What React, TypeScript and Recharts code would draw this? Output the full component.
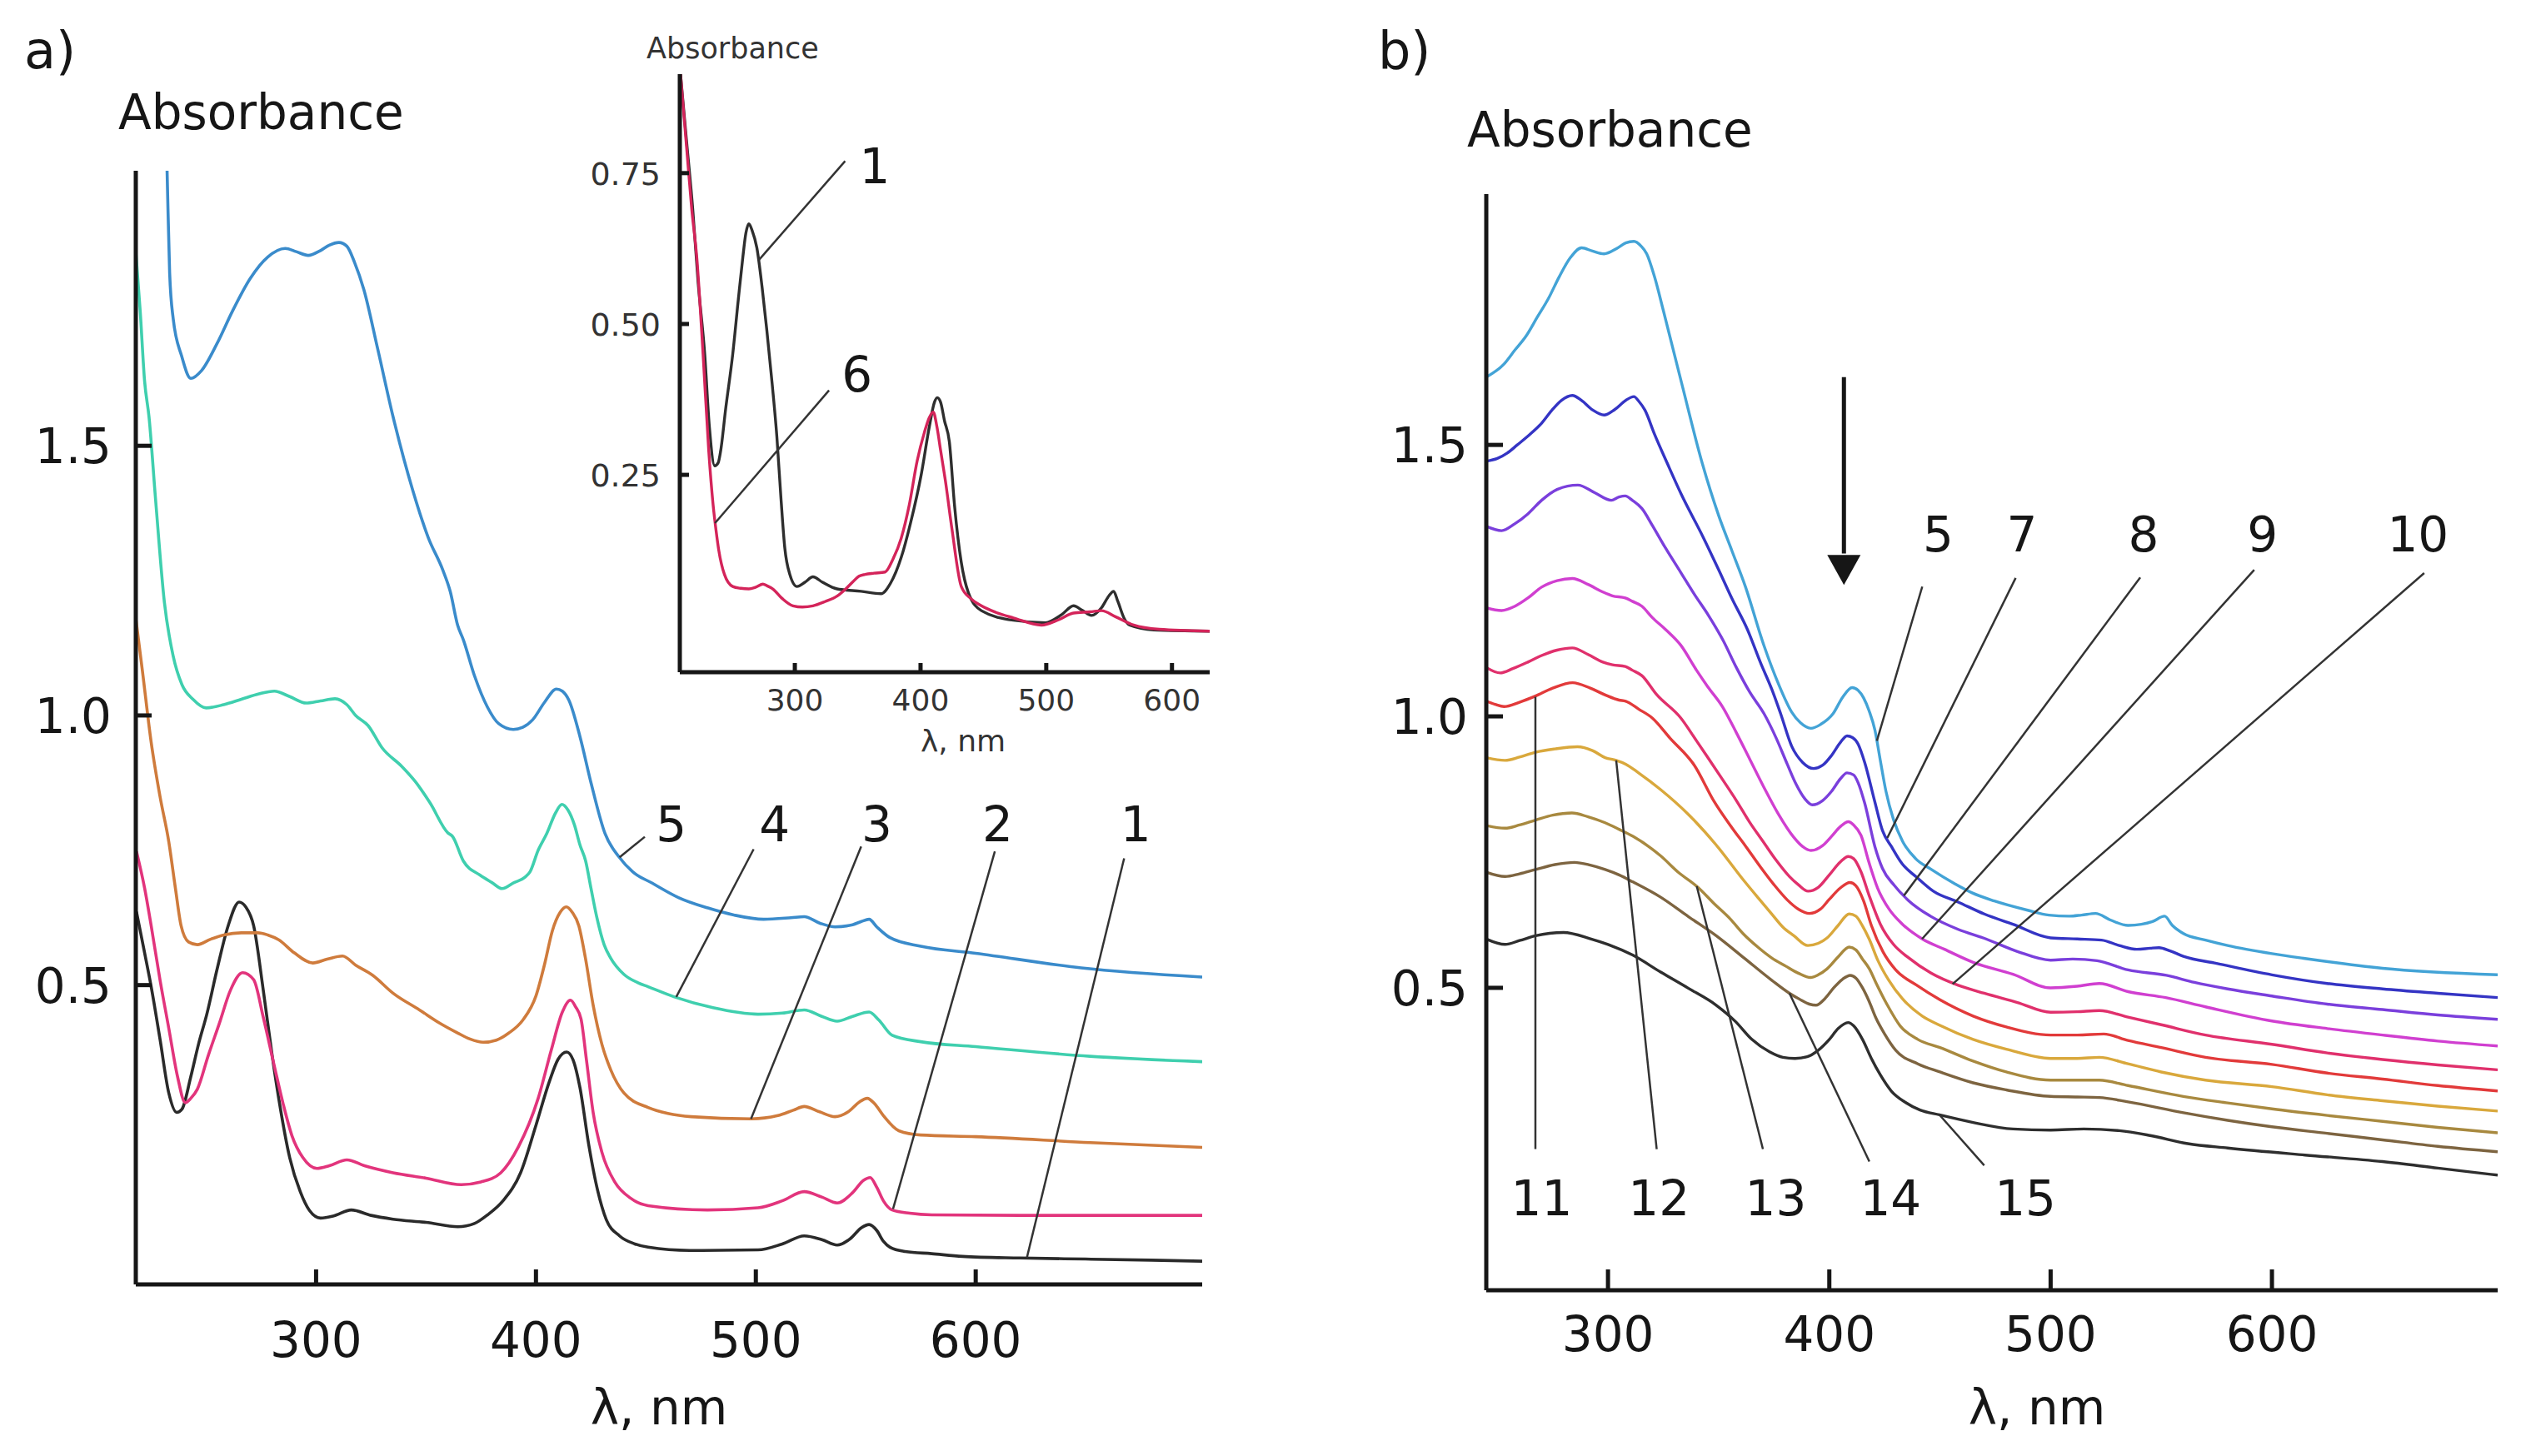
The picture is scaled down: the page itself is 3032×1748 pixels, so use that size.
import React from "react";
import { LineChart, Line, XAxis, YAxis, ReferenceLine, ReferenceDot } from "recharts";

type Pt = [number, number];

const FONT = "'DejaVu Sans', Verdana, sans-serif";
const INK = "#161616";

// ---- panel a: spectra 1–5, [wavelength nm, absorbance] ----
const a1: Pt[] = [
  [218.3, 0.636], [222, 0.56], [225, 0.497], [229, 0.4], [233, 0.3], [236.6, 0.264], [239, 0.27], [243, 0.33],
  [246.5, 0.39], [250.3, 0.446], [255, 0.53], [260, 0.61], [265, 0.654], [268, 0.645], [271.6, 0.61], [276, 0.49],
  [280, 0.37], [283, 0.29], [288, 0.18], [292.8, 0.117], [297, 0.082], [302, 0.068], [308, 0.072], [316, 0.083],
  [325, 0.073], [335, 0.066], [350, 0.06], [364.5, 0.052], [372, 0.058], [378, 0.074], [385, 0.1], [393, 0.152],
  [400, 0.24], [406, 0.32], [410, 0.362], [414, 0.376], [417, 0.36], [420, 0.31], [424, 0.204], [428, 0.12],
  [432, 0.065], [438, 0.035], [445, 0.02], [451, 0.014], [470, 0.008], [501, 0.009], [512, 0.02], [522, 0.035],
  [530, 0.028], [537, 0.018], [543, 0.03], [548, 0.05], [551.5, 0.056], [555, 0.045], [558, 0.025], [561, 0.014],
  [568, 0.006], [580, 0.002], [594, -0.003], [620, -0.006], [650, -0.008], [680, -0.01], [703, -0.012],
];
const a2: Pt[] = [
  [218.3, 0.748], [222, 0.68], [225, 0.61], [229, 0.51], [233, 0.42], [237, 0.33], [240.5, 0.282], [243, 0.29],
  [246, 0.307], [251, 0.37], [256, 0.429], [261, 0.49], [266.6, 0.523], [271.6, 0.51], [276, 0.44], [281, 0.35],
  [285, 0.28], [289, 0.221], [294, 0.18], [300.4, 0.16], [306, 0.165], [314, 0.176], [322, 0.165], [335, 0.152],
  [350, 0.142], [366, 0.13], [375, 0.135], [384, 0.152], [392, 0.2], [401, 0.29], [407, 0.38], [412, 0.45],
  [415.7, 0.472], [418, 0.46], [420.5, 0.437], [423, 0.36], [426, 0.264], [430, 0.19], [436, 0.134], [443, 0.105],
  [451, 0.091], [478, 0.083], [501, 0.087], [512, 0.1], [522, 0.117], [530, 0.107], [537, 0.096], [544, 0.115],
  [549, 0.138], [552, 0.143], [555, 0.125], [558, 0.1], [562, 0.083], [570, 0.077], [580, 0.074], [620, 0.073],
  [703, 0.073],
];
const a3: Pt[] = [
  [218, 1.18], [221, 1.083], [225, 0.95], [229, 0.85], [233, 0.766], [236, 0.68], [238.6, 0.61], [242, 0.58],
  [246, 0.575], [252, 0.585], [258, 0.593], [266, 0.597], [273.5, 0.597], [278, 0.593], [283, 0.584], [290, 0.56],
  [298.5, 0.541], [305, 0.548], [312, 0.554], [318, 0.537], [325.8, 0.518], [335, 0.485], [347, 0.454],
  [356, 0.43], [364.5, 0.411], [370, 0.4], [376, 0.394], [382, 0.398], [387.6, 0.411], [394, 0.435], [400, 0.48],
  [404, 0.54], [407.4, 0.6], [411, 0.635], [413.8, 0.645], [416.5, 0.635], [419.5, 0.61], [422.5, 0.55],
  [426, 0.463], [430, 0.39], [434, 0.343], [440, 0.3], [451, 0.273], [460, 0.262], [470.6, 0.256], [498, 0.252],
  [510, 0.258], [517, 0.268], [522, 0.275], [529, 0.265], [536, 0.256], [542, 0.265], [547, 0.283], [550.7, 0.29],
  [554, 0.28], [558, 0.258], [565, 0.23], [575, 0.222], [600, 0.219], [652, 0.208], [703, 0.199],
];
const a4: Pt[] = [
  [218, 1.86], [220, 1.75], [222, 1.62], [224, 1.554], [227, 1.4], [231, 1.21], [235, 1.11], [239, 1.057],
  [244, 1.03], [250, 1.014], [258, 1.02], [266, 1.03], [274, 1.04], [281, 1.045], [288, 1.035], [295.5, 1.023],
  [302, 1.027], [308.6, 1.031], [314, 1.02], [318, 1.0], [323.7, 0.981], [330, 0.94], [339.1, 0.905],
  [345, 0.878], [351.8, 0.838], [360, 0.782], [362, 0.776], [367, 0.73], [374.5, 0.704], [380, 0.69],
  [384.6, 0.679], [390, 0.69], [395, 0.7], [397.3, 0.71], [401, 0.75], [404.9, 0.781], [409, 0.82],
  [411.8, 0.835], [414.5, 0.825], [417.5, 0.797], [420, 0.76], [422.6, 0.73], [425, 0.68], [427.6, 0.627],
  [431, 0.575], [434, 0.55], [440, 0.52], [446.6, 0.504], [451, 0.497], [463, 0.478], [480.5, 0.458],
  [501, 0.446], [512, 0.448], [522, 0.454], [530, 0.442], [537, 0.433], [544, 0.442], [551.5, 0.45],
  [556, 0.435], [562, 0.407], [575, 0.395], [600, 0.386], [652, 0.368], [703, 0.358],
];
const a5: Pt[] = [
  [231.6, 2.12], [232.4, 1.98], [233.4, 1.82], [235, 1.736], [238.8, 1.667], [243, 1.625], [248, 1.64],
  [255, 1.69], [262, 1.75], [270, 1.81], [278, 1.85], [286, 1.866], [291, 1.86], [296.4, 1.853], [302, 1.862],
  [306, 1.872], [310.4, 1.877], [314, 1.87], [317.5, 1.84], [321.7, 1.79], [328, 1.68], [335, 1.554],
  [344, 1.417], [351, 1.33], [357.6, 1.27], [361, 1.23], [364.4, 1.167], [367, 1.14], [372, 1.074],
  [378, 1.015], [383, 0.985], [389.7, 0.974], [394, 0.978], [398.5, 0.992], [404, 1.025], [409.3, 1.049],
  [412, 1.045], [415, 1.028], [420, 0.961], [425.1, 0.874], [431.4, 0.781], [437.7, 0.738], [444, 0.71],
  [452.9, 0.689], [465, 0.662], [478.2, 0.643], [490, 0.63], [503.5, 0.622], [516, 0.625], [522, 0.627],
  [529, 0.615], [536, 0.608], [544, 0.612], [548, 0.618], [551.5, 0.622], [555, 0.608], [561, 0.588],
  [575, 0.572], [600, 0.559], [648, 0.532], [703, 0.515],
];

// ---- inset: spectra 1 and 6 ----
const i1: Pt[] = [
  [209, 0.915], [214, 0.8], [218.8, 0.69], [223, 0.57], [228.3, 0.45], [232, 0.33], [236.3, 0.265], [239, 0.27],
  [241, 0.29], [245, 0.36], [250.6, 0.45], [255, 0.54], [258.6, 0.61], [261, 0.65], [263.4, 0.666], [266, 0.655],
  [269.8, 0.626], [274, 0.56], [277.7, 0.49], [282, 0.4], [285.7, 0.313], [289, 0.21], [292, 0.129], [296, 0.085],
  [301.7, 0.065], [308, 0.072], [314.4, 0.081], [322, 0.072], [333.6, 0.061], [352.7, 0.057], [368.6, 0.053],
  [376, 0.07], [384.6, 0.113], [392, 0.17], [400.5, 0.25], [407, 0.33], [411, 0.37], [413.3, 0.378], [416, 0.37],
  [419, 0.34], [422.9, 0.305], [427, 0.2], [432.4, 0.105], [438, 0.055], [448.4, 0.025], [473.9, 0.009],
  [499.4, 0.005], [512, 0.018], [521.7, 0.033], [529, 0.025], [536, 0.017], [544, 0.03], [550, 0.05],
  [553.6, 0.057], [557, 0.04], [562, 0.012], [566.4, 0.001], [585.5, -0.007], [630, -0.009],
];
const i6: Pt[] = [
  [209, 0.915], [214, 0.79], [218, 0.69], [222, 0.61], [227, 0.45], [231.5, 0.29], [235, 0.2], [237.5, 0.155],
  [239.5, 0.125], [244, 0.085], [250.6, 0.065], [257, 0.062], [263.4, 0.061], [269, 0.064], [274.6, 0.069],
  [278, 0.066], [282.5, 0.061], [290, 0.045], [298.5, 0.033], [306, 0.031], [314.4, 0.033], [324, 0.04],
  [333.6, 0.049], [340, 0.06], [346.3, 0.073], [351, 0.082], [355.9, 0.085], [363, 0.087], [371.8, 0.089],
  [378, 0.11], [384.6, 0.145], [391, 0.2], [397.3, 0.273], [403, 0.32], [407, 0.345], [410.1, 0.354], [413, 0.33],
  [416, 0.29], [419.7, 0.241], [425, 0.16], [432.4, 0.065], [440, 0.045], [448.4, 0.033], [460, 0.022],
  [473.9, 0.013], [496.2, 0.001], [510, 0.01], [521.7, 0.021], [535, 0.023], [544, 0.025], [555, 0.015],
  [569.5, 0.001], [590, -0.006], [630, -0.009],
];

// ---- panel b: spectra 5, 7–15 ----
const b5: Pt[] = [
  [245, 1.625], [252.8, 1.648], [258, 1.675], [262.9, 1.7], [268, 1.735], [273, 1.769], [278, 1.81], [283, 1.845],
  [288.1, 1.863], [293, 1.857], [298.2, 1.852], [304, 1.862], [308, 1.872], [311.7, 1.875], [315, 1.866],
  [317.5, 1.852], [321, 1.81], [325.1, 1.746], [333.5, 1.61], [342.6, 1.466], [350, 1.37], [356, 1.305],
  [362, 1.24], [370.5, 1.13], [377, 1.06], [383, 1.008], [387, 0.988], [391.7, 0.978], [396, 0.985],
  [401.7, 1.005], [406, 1.035], [410.3, 1.053], [413, 1.048], [415.5, 1.034], [418, 1.01], [420.6, 0.975],
  [423, 0.92], [425.6, 0.862], [429, 0.81], [433.1, 0.77], [439, 0.738], [445.7, 0.719], [457, 0.691],
  [464.5, 0.675], [474.6, 0.66], [489.6, 0.643], [499.2, 0.634], [508.4, 0.632], [514, 0.634], [520.3, 0.637],
  [527, 0.625], [535, 0.615], [541, 0.617], [546, 0.622], [551.5, 0.632], [555, 0.615], [560, 0.6], [570, 0.588],
  [580, 0.578], [600, 0.563], [615, 0.554], [650, 0.536], [702, 0.524],
];
const b7: Pt[] = [
  [245, 1.47], [250, 1.475], [254.5, 1.485], [259, 1.5], [264.6, 1.519], [270, 1.54], [274.7, 1.564], [279, 1.582],
  [283.9, 1.591], [288, 1.582], [293.2, 1.564], [298.2, 1.555], [303, 1.565], [308, 1.582], [311.7, 1.589],
  [314, 1.58], [316.7, 1.564], [321, 1.52], [326.8, 1.466], [333, 1.41], [343, 1.33], [350, 1.27], [356, 1.217],
  [363, 1.16], [369, 1.098], [374, 1.05], [378, 1.005], [383, 0.945], [388, 0.915], [392.9, 0.904], [397, 0.91],
  [401, 0.928], [405, 0.952], [408, 0.964], [410.5, 0.961], [413, 0.949], [416, 0.915], [420.6, 0.842],
  [424, 0.79], [428.1, 0.76], [433, 0.728], [439.4, 0.704], [447, 0.678], [458.2, 0.658], [470, 0.636],
  [483, 0.617], [500, 0.592], [512, 0.59], [523, 0.588], [531, 0.578], [539, 0.571], [545, 0.573], [549, 0.574],
  [554, 0.568], [560, 0.558], [575, 0.545], [600, 0.524], [625, 0.508], [650, 0.498], [675, 0.49], [702, 0.482],
];
const b8: Pt[] = [
  [245, 1.35], [251.9, 1.342], [258, 1.355], [263.8, 1.373], [270, 1.398], [277, 1.418], [286.4, 1.426],
  [294, 1.412], [301.5, 1.398], [305, 1.404], [307.8, 1.406], [311, 1.398], [315.3, 1.383], [320, 1.352],
  [326, 1.31], [332.9, 1.265], [339, 1.225], [345.4, 1.186], [352, 1.14], [358, 1.09], [364, 1.045],
  [370.5, 1.005], [376, 0.96], [381, 0.912], [385, 0.875], [389, 0.848], [392.3, 0.837], [397, 0.845],
  [401, 0.862], [405, 0.885], [408, 0.896], [411, 0.892], [413, 0.878], [416, 0.84], [420.6, 0.76], [424, 0.72],
  [429.3, 0.689], [436, 0.66], [445.7, 0.632], [458, 0.608], [470.8, 0.59], [485, 0.567], [500, 0.551],
  [510, 0.553], [521, 0.55], [535, 0.533], [552.3, 0.523], [565, 0.51], [580, 0.498], [600, 0.485], [625, 0.47],
  [650, 0.46], [675, 0.45], [702, 0.442],
];
const b9: Pt[] = [
  [245, 1.2], [251.9, 1.195], [258, 1.203], [263.8, 1.218], [270, 1.238], [277, 1.25], [283.9, 1.254],
  [291, 1.243], [297.7, 1.229], [302, 1.222], [307.8, 1.218], [311, 1.212], [315.3, 1.203], [320, 1.182],
  [326, 1.16], [332.9, 1.131], [340, 1.085], [345, 1.055], [351.7, 1.018], [358, 0.97], [364.2, 0.92],
  [370.5, 0.869], [377, 0.82], [384, 0.777], [388, 0.76], [391.7, 0.753], [397, 0.762], [401, 0.779],
  [405, 0.797], [408.6, 0.806], [411, 0.8], [414.3, 0.781], [418, 0.73], [421.8, 0.684], [427, 0.645],
  [433.1, 0.617], [442, 0.59], [452, 0.571], [465, 0.547], [483, 0.525], [500, 0.5], [512, 0.503], [522, 0.508],
  [535, 0.493], [552, 0.482], [570, 0.465], [600, 0.439], [625, 0.425], [650, 0.413], [675, 0.402], [702, 0.393],
];
const b10: Pt[] = [
  [245, 1.09], [251.3, 1.08], [257, 1.088], [263.8, 1.1], [270, 1.112], [277, 1.122], [283.9, 1.126],
  [291, 1.114], [297.7, 1.1], [302, 1.095], [307.8, 1.092], [311, 1.085], [315.3, 1.075], [322, 1.04],
  [332.9, 0.997], [340, 0.955], [345, 0.925], [351.7, 0.884], [358, 0.845], [364, 0.805], [370, 0.77],
  [376, 0.735], [382, 0.705], [386, 0.69], [390.4, 0.678], [395, 0.685], [400, 0.708], [405, 0.732],
  [408.6, 0.742], [411, 0.738], [414.3, 0.714], [418, 0.67], [423.1, 0.617], [429, 0.58], [435.6, 0.556],
  [446, 0.527], [458, 0.505], [470, 0.49], [485, 0.473], [500, 0.455], [512, 0.456], [522, 0.458], [535, 0.446],
  [550, 0.432], [570, 0.413], [600, 0.396], [625, 0.38], [650, 0.368], [675, 0.358], [702, 0.349],
];
const b11: Pt[] = [
  [245, 1.028], [249, 1.022], [253, 1.018], [260, 1.026], [267, 1.037], [275, 1.052], [284, 1.062], [292, 1.052],
  [299, 1.039], [305, 1.03], [308, 1.028], [314, 1.013], [320, 0.997], [328, 0.96], [339, 0.91], [348, 0.843],
  [356, 0.795], [362, 0.762], [369, 0.722], [375, 0.69], [381, 0.662], [386, 0.645], [391, 0.637], [396, 0.645],
  [400, 0.663], [405, 0.684], [409.3, 0.694], [412, 0.688], [415.5, 0.66], [419, 0.615], [424.3, 0.566],
  [430, 0.533], [439.4, 0.505], [450, 0.478], [465, 0.448], [480, 0.428], [500, 0.413], [512, 0.413],
  [524, 0.415], [535, 0.403], [550, 0.39], [570, 0.372], [600, 0.359], [625, 0.343], [650, 0.332], [675, 0.32],
  [702, 0.31],
];
const b12: Pt[] = [
  [245, 0.924], [253.5, 0.919], [260, 0.925], [267.3, 0.934], [276, 0.94], [286.2, 0.944], [293, 0.937],
  [298.7, 0.924], [303.7, 0.919], [308, 0.912], [313.8, 0.896], [323.8, 0.865], [336.4, 0.819], [348.9, 0.763],
  [361.5, 0.697], [368, 0.665], [374, 0.636], [379, 0.612], [384, 0.596], [390.3, 0.578], [395, 0.582],
  [399, 0.592], [404, 0.615], [409, 0.636], [412, 0.632], [415, 0.614], [418, 0.59], [422, 0.55], [426.7, 0.515],
  [433, 0.48], [442, 0.448], [450, 0.431], [465, 0.405], [480, 0.387], [500, 0.37], [512, 0.37], [522, 0.372],
  [535, 0.36], [550, 0.345], [570, 0.33], [600, 0.318], [625, 0.303], [650, 0.292], [675, 0.282], [702, 0.273],
];
const b13: Pt[] = [
  [245, 0.799], [253.5, 0.794], [260, 0.8], [267.3, 0.809], [275, 0.818], [283.7, 0.822], [291, 0.815],
  [298.7, 0.804], [305, 0.792], [311.3, 0.779], [323.8, 0.743], [332, 0.712], [340.1, 0.687], [348, 0.655],
  [355.2, 0.627], [361, 0.6], [367.7, 0.575], [374, 0.555], [380.3, 0.54], [386, 0.527], [391.5, 0.519],
  [395, 0.524], [399, 0.535], [404, 0.557], [409, 0.575], [412, 0.57], [415, 0.553], [418.1, 0.535], [421, 0.51],
  [426, 0.47], [432, 0.43], [440, 0.405], [450, 0.39], [465, 0.365], [480, 0.345], [500, 0.33], [512, 0.33],
  [522, 0.33], [535, 0.32], [560, 0.3], [580, 0.288], [600, 0.277], [625, 0.265], [650, 0.254], [675, 0.243],
  [702, 0.233],
];
const b14: Pt[] = [
  [245, 0.713], [253.5, 0.705], [260, 0.71], [267.3, 0.718], [276, 0.727], [284.9, 0.731], [292, 0.726],
  [298.7, 0.718], [305, 0.708], [311.3, 0.695], [323.8, 0.667], [336.4, 0.631], [348.9, 0.596], [361.5, 0.555],
  [374, 0.514], [382, 0.49], [386.6, 0.479], [391, 0.47], [394, 0.468], [398, 0.48], [402, 0.5], [406, 0.516],
  [409.5, 0.523], [412, 0.518], [415, 0.5], [418, 0.475], [421, 0.445], [425, 0.415], [430, 0.385], [440, 0.36],
  [450, 0.345], [465, 0.325], [480, 0.312], [500, 0.3], [512, 0.299], [522, 0.298], [535, 0.29], [560, 0.27],
  [580, 0.256], [600, 0.244], [625, 0.232], [650, 0.22], [675, 0.208], [702, 0.198],
];
const b15: Pt[] = [
  [245, 0.59], [253.5, 0.58], [260, 0.587], [267.3, 0.596], [279.9, 0.602], [292.4, 0.59], [300, 0.58],
  [311.3, 0.56], [323.8, 0.529], [336.4, 0.499], [348.9, 0.468], [357.6, 0.438], [365, 0.405], [373, 0.382],
  [379, 0.372], [384.5, 0.37], [390, 0.373], [395, 0.385], [400, 0.405], [404, 0.425], [408.5, 0.436],
  [411, 0.43], [415, 0.405], [419, 0.37], [423, 0.34], [428, 0.31], [434.4, 0.289], [441, 0.275], [449.8, 0.266],
  [465, 0.252], [483, 0.24], [500, 0.238], [515, 0.24], [531, 0.237], [545, 0.228], [562, 0.213], [580, 0.205],
  [615, 0.192], [650, 0.18], [675, 0.168], [702, 0.155],
];

// curve tags: text, label position, leader from curve, leader to label
type Tag = { text: string; at: Pt; from: Pt; to: Pt };

const aTags: Tag[] = [
  { text: "5", at: [461.5, 0.8], from: [438, 0.737], to: [449.5, 0.775] },
  { text: "4", at: [508.5, 0.8], from: [463.8, 0.478], to: [499, 0.752] },
  { text: "3", at: [555, 0.8], from: [497.8, 0.252], to: [547.9, 0.757] },
  { text: "2", at: [610, 0.8], from: [562.4, 0.085], to: [608.7, 0.748] },
  { text: "1", at: [672.8, 0.8], from: [623.3, -0.005], to: [667.5, 0.735] },
];
const insetTags: Tag[] = [
  { text: "1", at: [363.5, 0.763], from: [271.4, 0.606], to: [340, 0.77] },
  { text: "6", at: [349.5, 0.418], from: [236.5, 0.17], to: [327.2, 0.39] },
];
const bTags: Tag[] = [
  { text: "5", at: [449.2, 1.337], from: [421.5, 0.955], to: [442, 1.239] },
  { text: "7", at: [487, 1.337], from: [426.2, 0.776], to: [484.2, 1.255] },
  { text: "8", at: [542, 1.337], from: [433.7, 0.67], to: [540.5, 1.256] },
  { text: "9", at: [595.7, 1.337], from: [441.9, 0.59], to: [592, 1.27] },
  { text: "10", at: [666, 1.337], from: [455.7, 0.507], to: [668.8, 1.264] },
  { text: "11", at: [270, 0.113], from: [267.2, 1.036], to: [267.2, 0.203] },
  { text: "12", at: [323, 0.113], from: [303.7, 0.919], to: [322, 0.203] },
  { text: "13", at: [375.8, 0.113], from: [340.1, 0.687], to: [370, 0.203] },
  { text: "14", at: [427.7, 0.113], from: [382, 0.49], to: [418.1, 0.18] },
  { text: "15", at: [488.6, 0.113], from: [449.8, 0.266], to: [470, 0.173] },
];

const aSeries = [
  { pts: a1, color: "#2a2a2a" },
  { pts: a2, color: "#e2347c" },
  { pts: a3, color: "#cf7b3c" },
  { pts: a4, color: "#3fcfae" },
  { pts: a5, color: "#3a8bcb" },
];
const insetSeries = [
  { pts: i1, color: "#2e2e2e" },
  { pts: i6, color: "#d4245a" },
];
const bSeries = [
  { pts: b15, color: "#2e2e2e" },
  { pts: b14, color: "#7d6440" },
  { pts: b13, color: "#a8893f" },
  { pts: b12, color: "#d9a83c" },
  { pts: b11, color: "#e23a3a" },
  { pts: b10, color: "#e0306c" },
  { pts: b9, color: "#d03fd0" },
  { pts: b8, color: "#7a3fdc" },
  { pts: b7, color: "#3434c4" },
  { pts: b5, color: "#43a3d6" },
];

const xTicks = [300, 400, 500, 600];
const yTicksMain = [0.5, 1.0, 1.5];
const yTicksInset = [0.25, 0.5, 0.75];

const rows = (pts: Pt[]) => pts.map(([x, y]) => ({ x, y }));

function yTick(len: number, gap: number, size: number, digits: number, color: string) {
  return (p: any) => (
    <g>
      <line x1={p.x} y1={p.y} x2={p.x + len} y2={p.y} stroke={INK} strokeWidth={5} />
      <text x={p.x - gap} y={p.y + size * 0.365} textAnchor="end" fontSize={size} fill={color} fontFamily={FONT}>
        {Number(p.payload.value).toFixed(digits)}
      </text>
    </g>
  );
}

function xTick(len: number, drop: number, size: number, color: string) {
  return (p: any) => (
    <g>
      <line x1={p.x} y1={p.y} x2={p.x} y2={p.y - len} stroke={INK} strokeWidth={5} />
      <text x={p.x} y={p.y + drop} textAnchor="middle" fontSize={size} fill={color} fontFamily={FONT}>
        {p.payload.value}
      </text>
    </g>
  );
}

function tagText(text: string, size: number) {
  return (p: any) => (
    <text x={p.cx} y={p.cy + size * 0.365} textAnchor="middle" fontSize={size} fill={INK} fontFamily={FONT}>
      {text}
    </text>
  );
}

function renderTags(tags: Tag[], size: number, key: string) {
  return tags.flatMap((t, i) => [
    <ReferenceLine
      key={`${key}-l${i}`}
      segment={[{ x: t.from[0], y: t.from[1] }, { x: t.to[0], y: t.to[1] }]}
      stroke="#333"
      strokeWidth={2.5}
      ifOverflow="visible"
    />,
    <ReferenceDot
      key={`${key}-t${i}`}
      x={t.at[0]}
      y={t.at[1]}
      r={0}
      ifOverflow="visible"
      shape={tagText(t.text, size)}
    />,
  ]);
}

function renderLines(series: { pts: Pt[]; color: string }[], width: number) {
  return series.map((s, i) => (
    <Line
      key={i}
      data={rows(s.pts)}
      dataKey="y"
      type="monotone"
      stroke={s.color}
      strokeWidth={width}
      dot={false}
      activeDot={false}
      isAnimationActive={false}
    />
  ));
}

// arrow in panel b: shaft then head, in data units
const arrowX = 406.6;
const arrowTop = 1.625;
const arrowHeadBase = 1.3;
const arrowTip = 1.242;

export default function App() {
  const axisLine = { stroke: INK, strokeWidth: 5 };
  return (
    <div style={{ position: "fixed", left: 0, top: 0, width: 3032, height: 1748, background: "#fff", overflow: "hidden" }}>
      {/* panel a */}
      <div style={{ position: "absolute", left: 0, top: 0 }}>
        <LineChart width={1500} height={1748} margin={{ top: 205, left: 162, right: 57, bottom: 205 }}>
          <XAxis dataKey="x" type="number" domain={[218, 703]} ticks={xTicks} interval={0} allowDataOverflow
            height={1} tickSize={0} tickMargin={0} tickLine={false} axisLine={axisLine}
            tick={xTick(18, 87, 58, INK)} />
          <YAxis type="number" domain={[-0.055, 2.01]} ticks={yTicksMain} interval={0} allowDataOverflow
            width={1} tickSize={0} tickMargin={0} tickLine={false} axisLine={axisLine}
            tick={yTick(19, 29, 58, 1, INK)} />
          {renderLines(aSeries, 3.6)}
          {renderTags(aTags, 58, "a")}
        </LineChart>
      </div>

      {/* inset of panel a */}
      <div style={{ position: "absolute", left: 700, top: 20 }}>
        <LineChart width={790} height={900} margin={{ top: 69, left: 115, right: 38, bottom: 112 }}>
          <XAxis dataKey="x" type="number" domain={[208.5, 630]} ticks={xTicks} interval={0} allowDataOverflow
            height={1} tickSize={0} tickMargin={0} tickLine={false} axisLine={axisLine}
            tick={xTick(11, 46, 36, "#333")} />
          <YAxis type="number" domain={[-0.077, 0.914]} ticks={yTicksInset} interval={0} allowDataOverflow
            width={1} tickSize={0} tickMargin={0} tickLine={false} axisLine={axisLine}
            tick={yTick(11, 23, 38, 2, "#333")} />
          {renderLines(insetSeries, 3.4)}
          {renderTags(insetTags, 58, "i")}
        </LineChart>
      </div>

      {/* panel b */}
      <div style={{ position: "absolute", left: 1500, top: 0 }}>
        <LineChart width={1532} height={1748} margin={{ top: 233, left: 283, right: 34, bottom: 198 }}>
          <XAxis dataKey="x" type="number" domain={[245, 702]} ticks={xTicks} interval={0} allowDataOverflow
            height={1} tickSize={0} tickMargin={0} tickLine={false} axisLine={axisLine}
            tick={xTick(25, 73, 58, INK)} />
          <YAxis type="number" domain={[-0.057, 1.962]} ticks={yTicksMain} interval={0} allowDataOverflow
            width={1} tickSize={0} tickMargin={0} tickLine={false} axisLine={axisLine}
            tick={yTick(20, 22, 58, 1, INK)} />
          {renderLines(bSeries, 3.4)}
          {renderTags(bTags, 58, "b")}
          <ReferenceLine
            segment={[{ x: arrowX, y: arrowTop }, { x: arrowX, y: arrowHeadBase }]}
            stroke={INK}
            strokeWidth={5}
            ifOverflow="visible"
          />
          <ReferenceDot
            x={arrowX}
            y={arrowTip}
            r={0}
            ifOverflow="visible"
            shape={(p: any) => (
              <polygon
                points={`${p.cx},${p.cy} ${p.cx - 20},${p.cy - 36} ${p.cx + 20},${p.cy - 36}`}
                fill={INK}
              />
            )}
          />
        </LineChart>
      </div>

      {/* panel letters and axis titles */}
      <svg width={3032} height={1748} style={{ position: "absolute", left: 0, top: 0, pointerEvents: "none" }}>
        <g fontFamily={FONT} fill={INK}>
          <text x={29} y={82} fontSize={62}>a)</text>
          <text x={142} y={155} fontSize={58}>Absorbance</text>
          <text x={791} y={1710} fontSize={58} textAnchor="middle">λ, nm</text>
          <text x={1654} y={82} fontSize={62}>b)</text>
          <text x={1761} y={176} fontSize={58}>Absorbance</text>
          <text x={2445} y={1710} fontSize={58} textAnchor="middle">λ, nm</text>
        </g>
        <g fontFamily={FONT} fill="#333">
          <text x={776} y={70} fontSize={35}>Absorbance</text>
          <text x={1156} y={902} fontSize={36} textAnchor="middle">λ, nm</text>
        </g>
      </svg>
    </div>
  );
}
